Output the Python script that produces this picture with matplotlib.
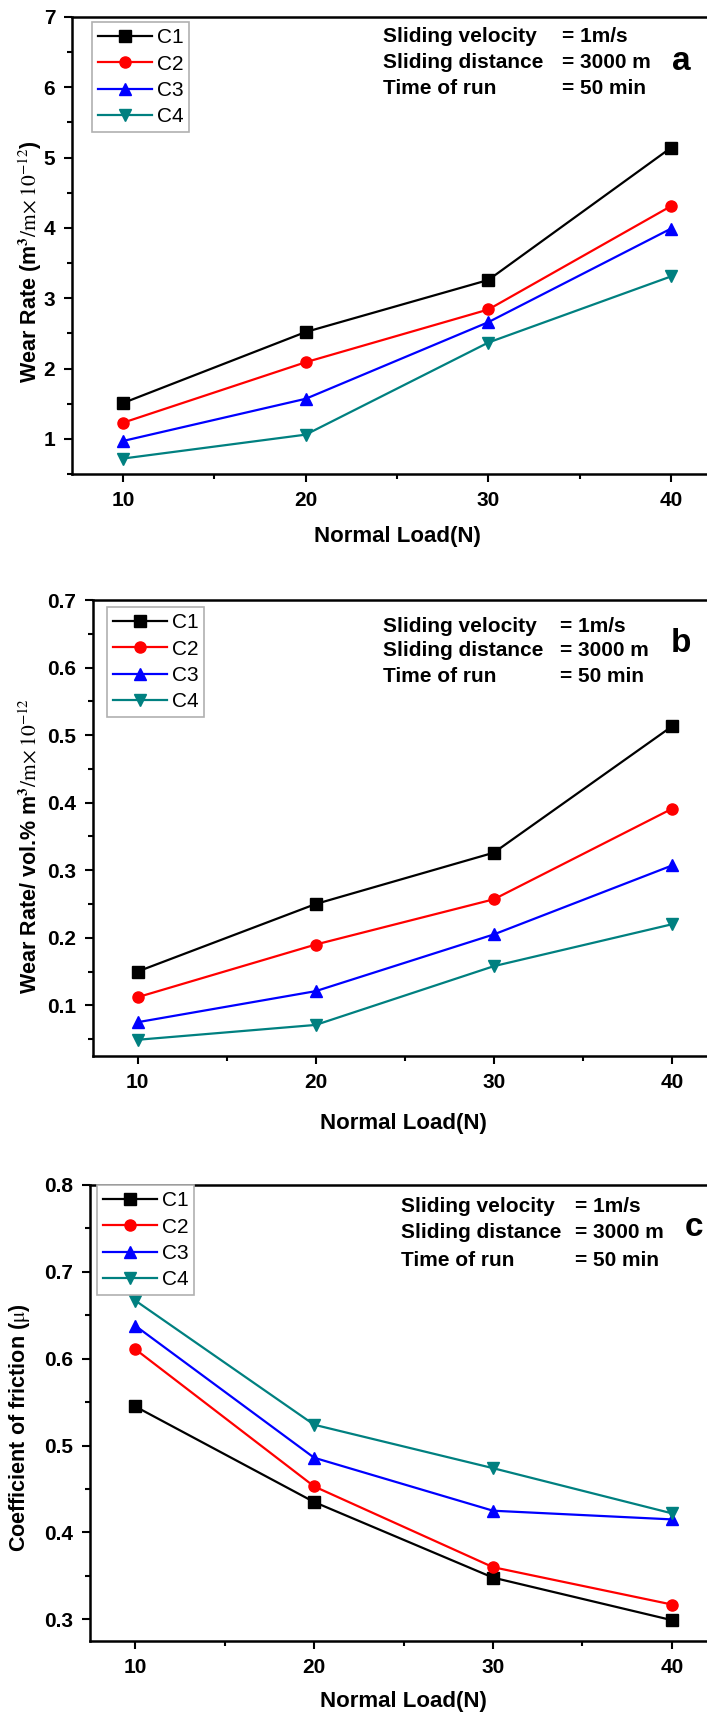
import numpy as np
import matplotlib
matplotlib.use("Agg")
import matplotlib.pyplot as plt
from matplotlib.ticker import MultipleLocator

# data
loads = [10, 20, 30, 40]
series = ["C1", "C2", "C3", "C4"]

wear_rate = {
    "C1": [1.51, 2.52, 3.26, 5.14],
    "C2": [1.23, 2.09, 2.84, 4.31],
    "C3": [0.97, 1.57, 2.66, 3.99],
    "C4": [0.72, 1.06, 2.37, 3.31],
}
wear_rate_vol = {
    "C1": [0.150, 0.250, 0.326, 0.513],
    "C2": [0.112, 0.190, 0.257, 0.391],
    "C3": [0.075, 0.121, 0.205, 0.307],
    "C4": [0.049, 0.071, 0.158, 0.220],
}
friction = {
    "C1": [0.545, 0.435, 0.348, 0.299],
    "C2": [0.611, 0.453, 0.360, 0.317],
    "C3": [0.638, 0.486, 0.425, 0.415],
    "C4": [0.667, 0.524, 0.474, 0.422],
}

cond_names = ["Sliding velocity", "Sliding distance", "Time of run"]
cond_values = ["= 1m/s", "= 3000 m", "= 50 min"]

colors = {"C1": "black", "C2": "#ff0000", "C3": "#0000ff", "C4": "#008080"}
markers = {"C1": "s", "C2": "o", "C3": "^", "C4": "v"}

W, H = 707, 1716
plt.rcParams["font.family"] = ["Liberation Sans", "DejaVu Sans"]
plt.rcParams["mathtext.fontset"] = "stix"

fig = plt.figure(figsize=(W / 100, H / 100), dpi=100)


def fx(x):
    return x / W


def fy(y):
    return 1 - y / H


# layout in figure pixels (top-left origin)
panels = [
    dict(data=wear_rate, left=72, top=17, bottom=474, xlim=(7.2, 42.3), ylim=(0.5, 7),
         major=1, minor=0.5, fmt="{:.0f}",
         ylabel=r"Wear Rate (m$^{\mathbf{3}}\mathrm{/m\!\times 10^{-12}}$)", ylab=(30, 262),
         xlab=(397, 536), leg=(92, 22), tx=383, ex=562, tys=[36, 63, 89],
         letter="a", lpos=(681, 62)),
    dict(data=wear_rate_vol, left=93, top=600, bottom=1056, xlim=(7.5, 42.3), ylim=(0.025, 0.7),
         major=0.1, minor=0.05, fmt="{:.1f}",
         ylabel=r"Wear Rate/ vol.% m$^{\mathbf{3}}\mathrm{/m\!\times 10^{-12}}$", ylab=(30, 846),
         xlab=(403, 1124), leg=(107, 607), tx=383, ex=560, tys=[626, 651, 677],
         letter="b", lpos=(681, 644)),
    dict(data=friction, left=90, top=1185, bottom=1641, xlim=(7.47, 42.3), ylim=(0.275, 0.8),
         major=0.1, minor=0.05, fmt="{:.1f}",
         ylabel=r"Coefficient of friction ($\mathrm{\mu}$)", ylab=(20, 1428),
         xlab=(403, 1701), leg=(97, 1185), tx=401, ex=575, tys=[1207, 1233, 1260],
         letter="c", lpos=(694, 1228)),
]

for p in panels:
    right = W + 6
    ax = fig.add_axes([fx(p["left"]), fy(p["bottom"]),
                       (right - p["left"]) / W, (p["bottom"] - p["top"]) / H])
    for s in series:
        ax.plot(loads, p["data"][s], color=colors[s], marker=markers[s],
                markersize=8, linewidth=1.6, label=s)
    ax.set_xlim(*p["xlim"])
    ax.set_ylim(*p["ylim"])
    ax.xaxis.set_major_locator(MultipleLocator(10))
    ax.xaxis.set_minor_locator(MultipleLocator(5))
    ax.yaxis.set_major_locator(MultipleLocator(p["major"]))
    ax.yaxis.set_minor_locator(MultipleLocator(p["minor"]))
    ax.yaxis.set_major_formatter(plt.FuncFormatter(lambda v, _, f=p["fmt"]: f.format(v)))
    ax.tick_params(which="major", direction="out", length=6, width=1.5,
                   labelsize=15, pad=6)
    ax.tick_params(which="minor", direction="out", length=3.5, width=1.5)
    ax.tick_params(top=False, right=False)
    for lab in ax.get_xticklabels() + ax.get_yticklabels():
        lab.set_fontweight("bold")
    for sp in ax.spines.values():
        sp.set_linewidth(1.8)

    ax.set_ylabel(p["ylabel"], fontsize=15.5, fontweight="bold")
    ax.yaxis.set_label_coords(fx(p["ylab"][0]), fy(p["ylab"][1]), transform=fig.transFigure)
    ax.set_xlabel("Normal Load(N)", fontsize=16, fontweight="bold")
    ax.xaxis.set_label_coords(fx(p["xlab"][0]), fy(p["xlab"][1]), transform=fig.transFigure)
    ax.xaxis.label.set_verticalalignment("center")
    ax.yaxis.label.set_verticalalignment("center")

    leg = ax.legend(loc="upper left", bbox_to_anchor=(fx(p["leg"][0]), fy(p["leg"][1])),
                    bbox_transform=fig.transFigure, borderaxespad=0, fontsize=15,
                    handlelength=2.6, handletextpad=0.2, labelspacing=0.35,
                    borderpad=0.3, fancybox=False, framealpha=1)
    leg.get_frame().set_edgecolor("#b0b0b0")
    leg.get_frame().set_linewidth(1.2)

    for name, val, y in zip(cond_names, cond_values, p["tys"]):
        fig.text(fx(p["tx"]), fy(y), name, fontsize=15, fontweight="bold", va="center")
        fig.text(fx(p["ex"]), fy(y), val, fontsize=15, fontweight="bold", va="center")
    fig.text(fx(p["lpos"][0]), fy(p["lpos"][1]), p["letter"], fontsize=24,
             fontweight="bold", ha="center", va="center")

fig.savefig("out.png", dpi=100)
